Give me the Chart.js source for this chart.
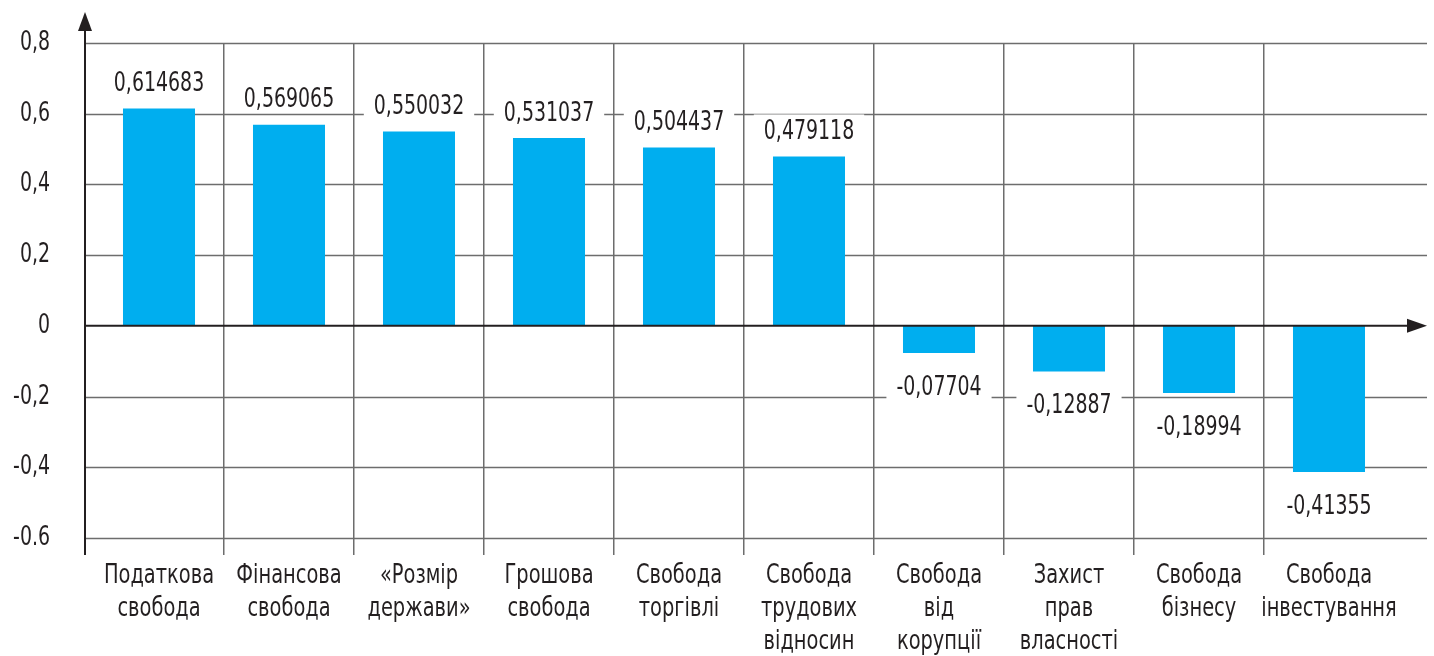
<!DOCTYPE html>
<html>
<head>
<meta charset="utf-8">
<script src="https://cdn.jsdelivr.net/npm/chart.js@4/dist/chart.umd.min.js"></script>
<style>
  body { margin: 0; background: #fff; }
  #wrap { width: 1434px; height: 656px; position: relative; }
</style>
</head>
<body>
<div id="wrap"><canvas id="chart"></canvas></div>
<script>
// Категорії (по рядках)
const categories = [
  ['Податкова', 'свобода'],
  ['Фінансова', 'свобода'],
  ['«Розмір', 'держави»'],
  ['Грошова', 'свобода'],
  ['Свобода', 'торгівлі'],
  ['Свобода', 'трудових', 'відносин'],
  ['Свобода', 'від', 'корупції'],
  ['Захист', 'прав', 'власності'],
  ['Свобода', 'бізнесу'],
  ['Свобода', 'інвестування']
];

// Значення кореляції
const values = [0.614683, 0.569065, 0.550032, 0.531037, 0.504437, 0.479118, -0.07704, -0.12887, -0.18994, -0.41355];

// Підписи осі Y (від мінімуму до максимуму)
const yTickLabels = ['-0.6', '-0,4', '-0,2', '0', '0,2', '0,4', '0,6', '0,8'];

const FONT = "'DejaVu Sans Condensed', sans-serif";
const TEXT = '#231f20';
const GRID = '#6d6d6d';

// текст зі стисненням по горизонталі (вузький шрифт як в оригіналі)
function narrowText(ctx, text, x, y, sx) {
  ctx.save();
  ctx.translate(x, y);
  ctx.scale(sx, 1);
  ctx.fillText(text, 0, 0);
  ctx.restore();
}

// Плагін: осі зі стрілками, горизонтальна сітка та підписи
const axesPlugin = {
  id: 'axesPlugin',
  beforeDatasetsDraw(chart) {
    const ctx = chart.ctx;
    const area = chart.chartArea;
    const y = chart.scales.y;
    const x0 = area.left - 9;
    const x1 = area.right + 33;
    ctx.save();
    ctx.strokeStyle = GRID;
    ctx.lineWidth = 1.5;
    y.ticks.forEach(t => {
      if (t.value === 0) return;
      const py = Math.round(y.getPixelForValue(t.value)) + 0.5;
      ctx.beginPath();
      ctx.moveTo(x0, py);
      ctx.lineTo(x1, py);
      ctx.stroke();
    });
    ctx.restore();
  },
  afterDatasetsDraw(chart) {
    const ctx = chart.ctx;
    const area = chart.chartArea;
    const y = chart.scales.y;
    const x = chart.scales.x;
    const x0 = area.left - 9;
    const x1 = area.right + 33;
    const zy = y.getPixelForValue(0);
    ctx.save();

    // підписи значень на білій підкладці
    ctx.font = '26px ' + FONT;
    ctx.textAlign = 'center';
    ctx.textBaseline = 'alphabetic';
    const meta = chart.getDatasetMeta(0);
    meta.data.forEach((bar, i) => {
      const v = values[i];
      const label = String(v).replace('.', ',');
      const cy = v >= 0 ? bar.y - 27 : bar.y + 32;
      const w = ctx.measureText(label).width * 0.81 + 20;
      ctx.fillStyle = '#fff';
      ctx.fillRect(bar.x - w / 2, cy - 15, w, 30);
      ctx.fillStyle = TEXT;
      narrowText(ctx, label, bar.x, cy + 9.5, 0.81);
    });

    ctx.strokeStyle = TEXT;
    ctx.fillStyle = TEXT;
    ctx.lineWidth = 2;
    // вісь Y
    ctx.beginPath();
    ctx.moveTo(x0, area.bottom + 17);
    ctx.lineTo(x0, 28);
    ctx.stroke();
    ctx.beginPath();
    ctx.moveTo(x0, 12);
    ctx.lineTo(x0 - 7, 31);
    ctx.lineTo(x0 + 7, 31);
    ctx.closePath();
    ctx.fill();
    // нульова лінія
    ctx.beginPath();
    ctx.moveTo(x0, zy);
    ctx.lineTo(x1 - 18, zy);
    ctx.stroke();
    ctx.beginPath();
    ctx.moveTo(x1, zy);
    ctx.lineTo(x1 - 20, zy - 7);
    ctx.lineTo(x1 - 20, zy + 7);
    ctx.closePath();
    ctx.fill();

    // підписи осі Y
    ctx.font = '27px ' + FONT;
    ctx.textAlign = 'right';
    y.ticks.forEach((t, i) => {
      narrowText(ctx, yTickLabels[i], area.left - 44, y.getPixelForValue(t.value) + 7, 0.78);
    });

    // підписи категорій
    ctx.textAlign = 'center';
    categories.forEach((lines, i) => {
      const cx = x.getPixelForValue(i);
      lines.forEach((line, k) => {
        narrowText(ctx, line, cx, area.bottom + 45 + k * 33, 0.8);
      });
    });
    ctx.restore();
  }
};

new Chart(document.getElementById('chart'), {
  type: 'bar',
  data: {
    labels: categories,
    datasets: [{
      data: values,
      backgroundColor: '#00aeef',
      borderWidth: 0,
      categoryPercentage: 1,
      barPercentage: 0.554
    }]
  },
  options: {
    responsive: true,
    maintainAspectRatio: false,
    animation: false,
    layout: { padding: { top: 43, right: 40, bottom: 0, left: 0 } },
    plugins: {
      legend: { display: false },
      tooltip: { enabled: false }
    },
    scales: {
      x: {
        border: { display: false },
        grid: {
          offset: true,
          color: c => (c.index > 0 && c.index < categories.length) ? GRID : 'rgba(0,0,0,0)',
          lineWidth: 1.5,
          tickLength: 17
        },
        ticks: { display: false, autoSkip: false },
        afterFit: s => { s.height = 118; }
      },
      y: {
        min: -0.6,
        max: 0.8,
        border: { display: false },
        grid: { display: false },
        ticks: { display: false, stepSize: 0.2 },
        afterFit: s => { s.width = 94; }
      }
    }
  },
  plugins: [axesPlugin]
});
</script>
</body>
</html>
